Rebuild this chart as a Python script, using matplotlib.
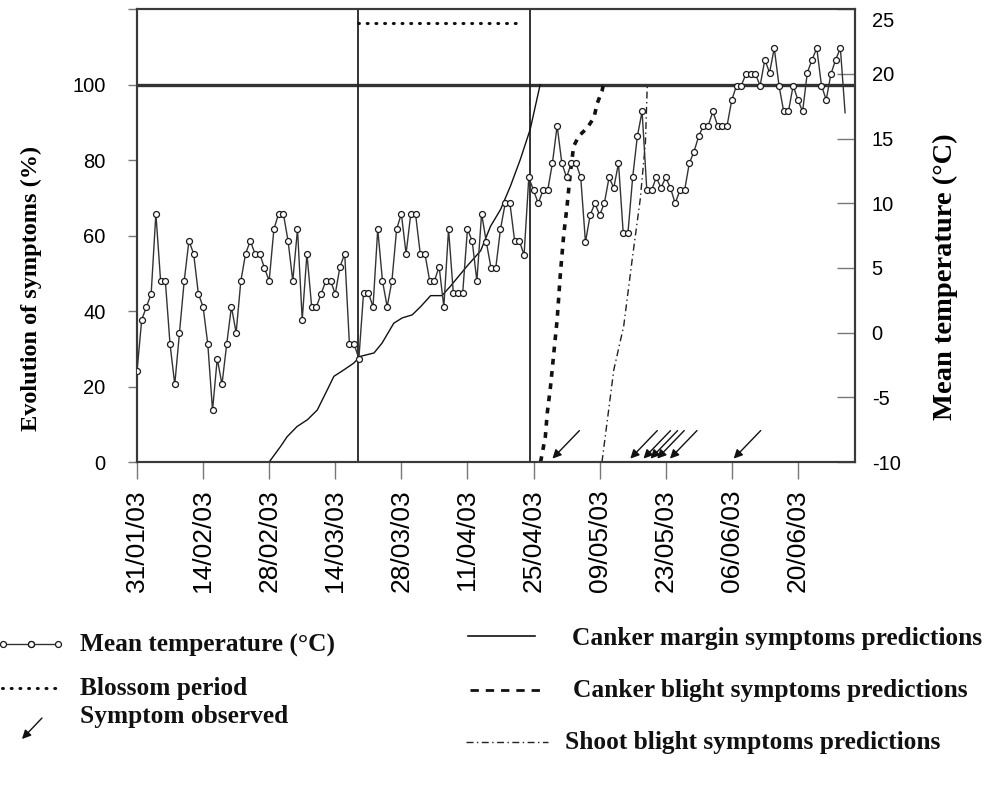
import matplotlib
matplotlib.use("Agg")
import matplotlib.pyplot as plt
from matplotlib.lines import Line2D

# ---------------- data ----------------
# x positions are days after 31/01/03
tick_days = [0, 14, 28, 42, 56, 70, 84, 98, 112, 126, 140]
tick_labels = ['31/01/03', '14/02/03', '28/02/03', '14/03/03', '28/03/03',
               '11/04/03', '25/04/03', '09/05/03', '23/05/03', '06/06/03', '20/06/03']

# daily mean temperature (deg C), day 0 = 31/01/03
temperature = [
    -3, 1, 2, 3, 9.2, 4, 4, -0.9, -4, 0,
    4, 7.1, 6.1, 3, 2, -0.9, -6, -2, -4, -0.9,
    2, 0, 4, 6.1, 7.1, 6.1, 6.1, 5, 4, 8,
    9.2, 9.2, 7.1, 4, 8, 1, 6.1, 2, 2, 3,
    4, 4, 3, 5.1, 6.1, -0.9, -0.9, -2, 3.1, 3.1,
    2, 8, 4, 2, 4, 8, 9.2, 6.1, 9.2, 9.2,
    6.1, 6.1, 4, 4, 5.1, 2, 8, 3.1, 3.1, 3.1,
    8, 7.1, 4, 9.2, 7, 5, 5, 8, 10, 10,
    7.1, 7.1, 6, 12, 11, 10, 11, 11, 13.1, 16,
    13.1, 12, 13.1, 13.1, 12, 7, 9.1, 10, 9.1, 10,
    12, 11.2, 13.1, 7.7, 7.7, 12, 15.2, 17.1, 11, 11,
    12, 11.2, 12, 11.2, 10, 11, 11, 13.1, 14, 15.2,
    16, 16, 17.1, 16, 16, 16, 18, 19.1, 19.1, 20,
    20, 20, 19.1, 21.1, 20.1, 22, 19.1, 17.1, 17.1, 19.1,
    18, 17.1, 20.1, 21.1, 22, 19.1, 18, 20, 21.1, 22,
    17,
]

# canker margin symptoms predictions (cumulative %)
margin_days = [28, 30.4, 31.8, 33.9, 36.1, 38.2, 40.3, 41.7, 43.8, 45.9, 47.3,
               50.2, 51.9, 54.4, 56.2, 58.3, 60.1, 62.2, 64.6, 66.4, 69.9,
               72.8, 74.9, 77.0, 79.1, 81.2, 83.3, 84.4, 85.4]
margin_pct = [0, 4.1, 6.7, 9.4, 11.2, 13.8, 19.1, 22.7, 24.4, 26.2, 28.0,
              28.9, 31.5, 36.8, 38.2, 39.0, 41.2, 44.1, 44.1, 46.6, 51.9,
              56.0, 62.5, 66.9, 73.1, 80.2, 88.2, 94.4, 100]

# canker blight symptoms predictions (cumulative %)
blight_days = [85.5, 86.5, 86.9, 87.6, 88.3, 89.0, 89.7, 90.4, 91.1, 91.8,
               92.5, 93.6, 95.4, 96.8, 97.5, 98.5, 98.8]
blight_pct = [0, 6.7, 12.9, 20.0, 28.9, 37.7, 50.1, 60.3, 67.8, 76.7,
              83.7, 86.4, 88.6, 91.3, 95.1, 98.3, 100]

# shoot blight symptoms predictions (cumulative %)
shoot_days = [98.5, 101.0, 103.1, 104.9, 106.6, 107.7, 108.1]
shoot_pct = [0, 24.4, 36.0, 53.7, 69.6, 84.6, 100]

# observed symptoms (days)
symptom_days = [88, 104.5, 107.3, 108.8, 110.2, 112.9, 126.4]

# blossom period (days) and its level on the % axis
blossom_days = [46.8, 81.6]
blossom_level = 116.5

# vertical reference lines (days)
vline_days = [46.8, 83.3]

# ---------------- figure ----------------
SERIF = ['Liberation Serif', 'DejaVu Serif']
SANS = ['Liberation Sans', 'DejaVu Sans']
FR = '#3a3a3a'

fig = plt.figure(figsize=(9.96, 7.87), dpi=100)
ax = fig.add_axes([137 / 996, 1 - 462 / 787, 718 / 996, 452.7 / 787])
ax2 = ax.twinx()

for a in (ax, ax2):
    for s in a.spines.values():
        s.set_color(FR)
        s.set_linewidth(1.5)

ax.set_xlim(0, 152.1)
ax.set_ylim(0, 120)
ax2.set_ylim(-10, 25)

# x axis
ax.set_xticks(tick_days)
ax.set_xticklabels(tick_labels, rotation=90, family=SANS, fontsize=19,
                   va='top', ha='center')
ax.tick_params(axis='x', direction='out', length=12.5, width=1.0,
               color='#777777', pad=7)

# left axis
ax.set_yticks([0, 20, 40, 60, 80, 100, 120])
ax.set_yticklabels(['0', '20', '40', '60', '80', '100', ''], family=SANS,
                   fontsize=14.5)
ax.tick_params(axis='y', direction='out', length=6.5, width=1.0,
               color='#777777', pad=16)
ax.set_ylabel('Evolution of symptoms (%)', family=SERIF, fontweight='bold',
              fontsize=17.5)
ax.yaxis.set_label_coords(-0.132, 0.384)

# right axis
ax2.set_yticks([-10, -5, 0, 5, 10, 15, 20, 25])
ax2.set_yticklabels(['-10', '-5', '0', '5', '10', '15', '20', ''],
                    family=SANS, fontsize=14.5)
ax2.tick_params(axis='y', direction='in', length=13, width=1.0,
                color='#777777', pad=12)
ax2.annotate('25', xy=(1, 25), xycoords=('axes fraction', 'data'),
             xytext=(17, -12), textcoords='offset pixels', ha='left',
             va='center', family=SANS, fontsize=14.5)
ax2.set_ylabel('Mean temperature (°C)', family=SERIF, fontweight='bold',
               fontsize=20.5)
ax2.yaxis.set_label_coords(1.109, 0.409)

# reference lines
ax.axhline(100, color='#333333', lw=2.4, zorder=3)
for d in vline_days:
    ax.axvline(d, color='#222222', lw=1.3, zorder=3)

# blossom period
ax.plot(blossom_days, [blossom_level, blossom_level], color='#111111', lw=2.2,
        linestyle=(0, (0.3, 2.55)), dash_capstyle='round', zorder=4)

# predictions
ax.plot(margin_days, margin_pct, color='#111111', lw=1.0, zorder=4)
ax.plot(blight_days, blight_pct, color='#111111', lw=2.6,
        linestyle=(0, (1.6, 1.8)), zorder=4)
ax.plot(shoot_days, shoot_pct, color='#222222', lw=1.0,
        linestyle=(0, (5, 2.5, 1, 2.5)), zorder=4)

# observed symptoms
for d in symptom_days:
    ax.annotate('', xy=(d, 0.9), xycoords='data', xytext=(27, 28),
                textcoords='offset pixels',
                arrowprops=dict(arrowstyle='-|>', color='#111111', lw=1.0,
                                mutation_scale=13, shrinkA=0, shrinkB=0),
                zorder=5)

# temperature
days = list(range(len(temperature)))
ax2.plot(days, temperature, color='#333333', lw=1.0, marker='o', ms=4.3,
         mfc='white', mec='#1a1a1a', mew=0.9, markevery=slice(0, 150),
         zorder=5)

# ---------------- legend (drawn in figure pixels) ----------------
lax = fig.add_axes([0, 0, 1, 1])
lax.set_xlim(0, 996)
lax.set_ylim(787, 0)
lax.axis('off')
lax.patch.set_visible(False)

lax.add_line(Line2D([3, 58], [644, 644], color='#333333', lw=1.0,
                    marker='o', ms=4.3, mfc='white', mec='#1a1a1a', mew=0.9))
lax.add_line(Line2D([31, 31], [644, 644], color='#333333', lw=1.0,
                    marker='o', ms=4.3, mfc='white', mec='#1a1a1a', mew=0.9))
lax.add_line(Line2D([2, 62], [688, 688], color='#111111', lw=2.2,
                    linestyle=(0, (0.3, 2.55)), dash_capstyle='round'))
lax.annotate('', xy=(22, 739), xytext=(42, 718),
             arrowprops=dict(arrowstyle='-|>', color='#111111', lw=1.0,
                             mutation_scale=13, shrinkA=0, shrinkB=0))
lax.add_line(Line2D([468, 535], [636, 636], color='#111111', lw=1.2))
lax.add_line(Line2D([470, 540], [690, 690], color='#111111', lw=2.0,
                    linestyle=(0, (3, 2.5))))
lax.add_line(Line2D([466, 548], [742, 742], color='#222222', lw=1.0,
                    linestyle=(0, (5, 2.5, 1, 2.5))))

leg_kw = dict(family=SERIF, fontweight='bold', fontsize=18.3, va='center',
              ha='left', color='#111111')
lax.text(80, 645, 'Mean temperature (°C)', **leg_kw)
lax.text(80, 689, 'Blossom period', **leg_kw)
lax.text(80, 716, 'Symptom observed', **leg_kw)
lax.text(572, 638, 'Canker margin symptoms predictions', **leg_kw)
lax.text(573, 690, 'Canker blight symptoms predictions', **leg_kw)
lax.text(565, 742, 'Shoot blight symptoms predictions', **leg_kw)

fig.savefig('out.png', dpi=100)
